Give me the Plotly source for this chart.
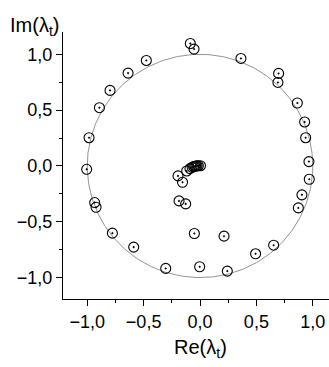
import numpy as np
import plotly.graph_objects as go

re_vals = [-0.086, -0.053, 0.363, -0.476, -0.638, 0.697, 0.691, -0.798, 0.863, -0.892,
           0.928, 0.937, -0.984, 0.966, 0.969, -1.005, 0.904, 0.872, -0.934, -0.922,
           -0.777, -0.588, 0.653, 0.493, -0.304, -0.003, 0.242, 0.213, -0.050, -0.186,
           -0.127, -0.195, -0.155,
           -0.118, -0.089, -0.070, -0.057, -0.046, -0.036, -0.026, -0.015, 0.004]
im_vals = [1.097, 1.047, 0.963, 0.945, 0.832, 0.829, 0.748, 0.677, 0.564, 0.522,
           0.394, 0.253, 0.253, 0.039, -0.119, -0.030, -0.259, -0.376, -0.328, -0.370,
           -0.602, -0.727, -0.710, -0.787, -0.918, -0.903, -0.942, -0.629, -0.605, -0.313,
           -0.340, -0.089, -0.146,
           -0.045, -0.024, -0.012, -0.006, -0.003, 0.000, 0.001, 0.002, 0.002]

theta = np.linspace(0, 2 * np.pi, 361)

fig = go.Figure()
fig.add_trace(go.Scatter(x=np.cos(theta), y=np.sin(theta), mode="lines",
                         line=dict(color="#777777", width=0.8), hoverinfo="skip"))
fig.add_trace(go.Scatter(x=re_vals, y=im_vals, mode="markers",
                         marker=dict(symbol="circle-open-dot", size=10, color="black",
                                     line=dict(width=1.1, color="black"))))

fam = "Liberation Sans, Arial, sans-serif"
font = dict(family=fam, size=18, color="black")
axis_common = dict(showline=True, linecolor="black", linewidth=1, ticks="outside",
                   ticklen=6, tickwidth=1, tickcolor="black", showgrid=False,
                   zeroline=False, dtick=0.5, tickformat=".1f", tickfont=font,
                   ticklabeloverflow="allow",
                   minor=dict(ticks="outside", ticklen=3, dtick=0.25, tickcolor="black"))

fig.update_layout(
    width=329, height=367,
    margin=dict(l=63, r=0, t=32, b=68),
    paper_bgcolor="white", plot_bgcolor="white",
    showlegend=False,
    separators=", ",
    xaxis=dict(range=[-1.215, 1.144], tick0=0, **axis_common),
    yaxis=dict(range=[-1.192, 1.2], tick0=0, **axis_common),
    annotations=[
        dict(text="Im(λ<sub>t</sub>)", xref="paper", yref="paper", x=-0.205, y=1.0,
             xanchor="left", yanchor="bottom", yshift=-9, showarrow=False,
             font=dict(family=fam, size=20, color="black")),
        dict(text="Re(λ<sub>t</sub>)", xref="x", yref="paper", x=0.0, y=0,
             xanchor="center", yanchor="top", yshift=-35, showarrow=False,
             font=dict(family=fam, size=20, color="black")),
    ],
)

# remove the default page margin so the figure fills the window exactly
fig.write_html("out.html", config={"displayModeBar": False},
               post_script="document.body.style.margin='0';document.body.style.overflow='hidden';")
